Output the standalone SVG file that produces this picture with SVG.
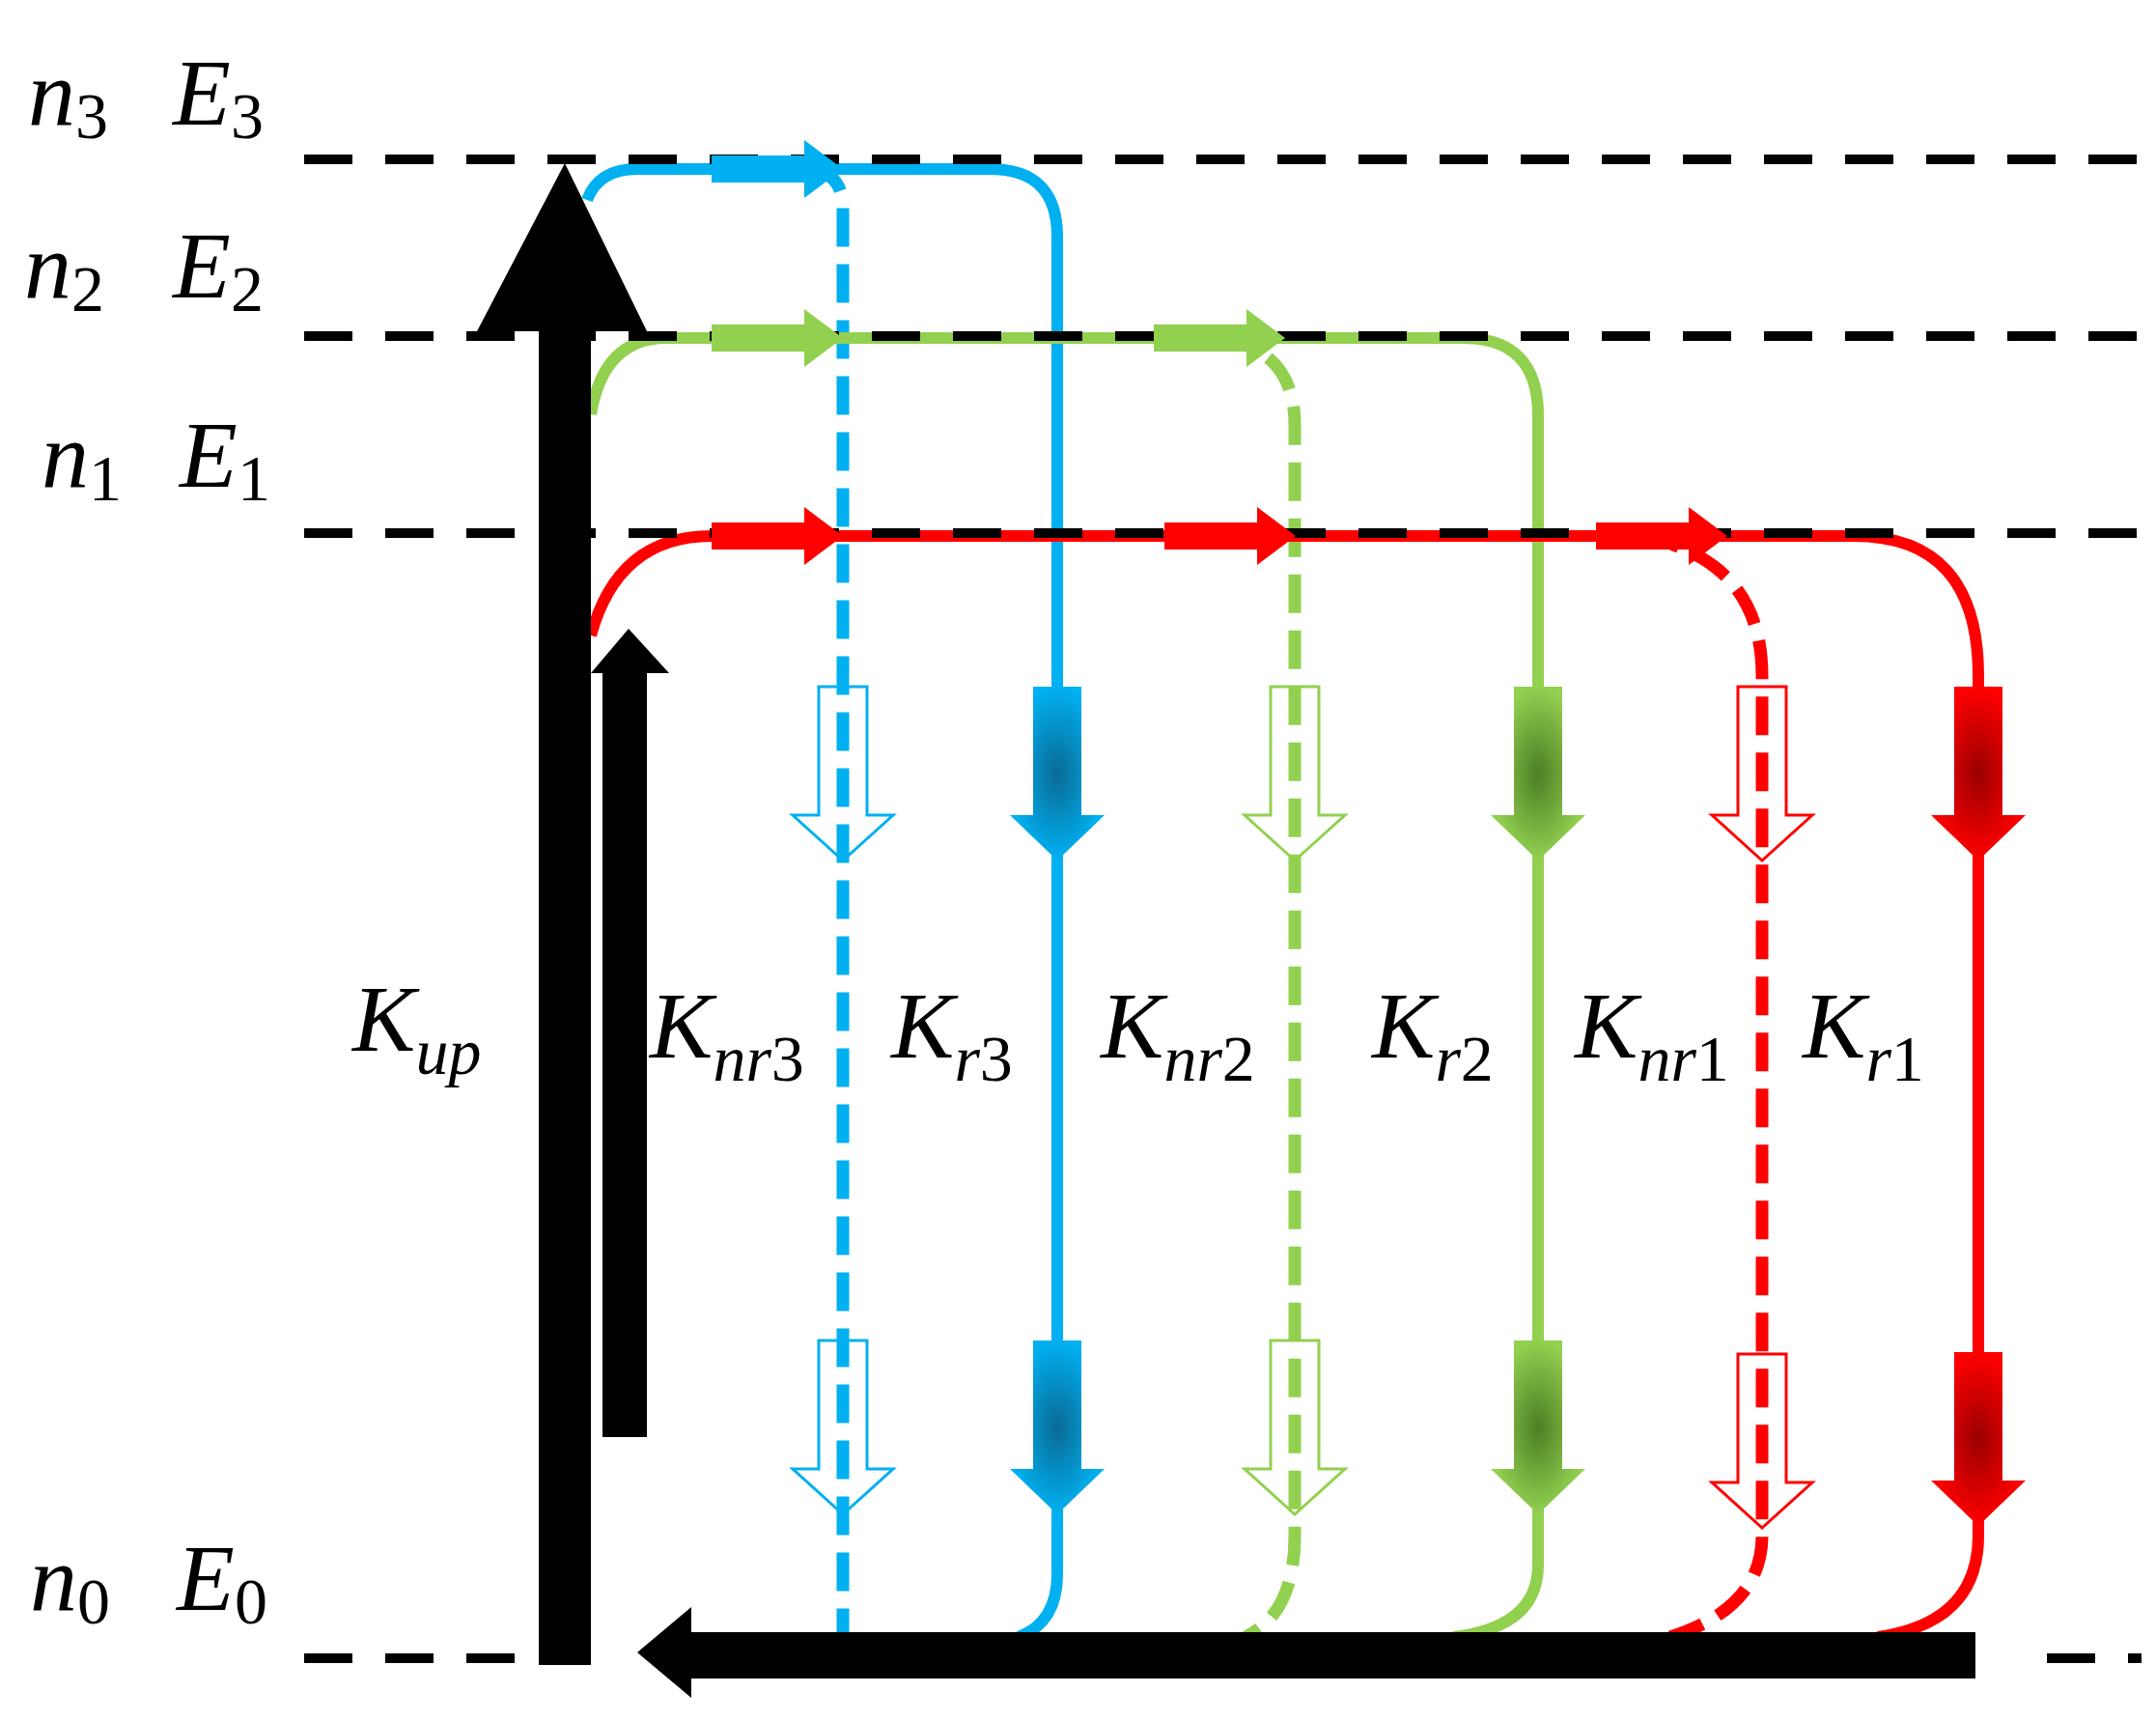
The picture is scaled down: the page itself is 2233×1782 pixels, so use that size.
<svg xmlns="http://www.w3.org/2000/svg" width="2233" height="1782" viewBox="0 0 2233 1782">
<style>
.lvl{stroke:#000;stroke-width:10;stroke-dasharray:50 34;fill:none}
.t{font-family:"Liberation Serif","Times New Roman",serif;font-style:italic;font-size:98px;fill:#000}
.s{font-style:normal;font-size:68px}
.si{font-style:italic}
.bs{stroke:#00b0f0}.gs{stroke:#92d050}.rs{stroke:#ff0000}
.ln{fill:none;stroke-width:12}
.dl{fill:none;stroke-width:13;stroke-dasharray:40 18}
</style>
<defs>
<radialGradient id="gb"><stop offset="0" stop-color="#0a6a94"/><stop offset="1" stop-color="#00b0f0"/></radialGradient>
<radialGradient id="gg"><stop offset="0" stop-color="#4a7f25"/><stop offset="1" stop-color="#92d050"/></radialGradient>
<radialGradient id="gr"><stop offset="0" stop-color="#9a0000"/><stop offset="1" stop-color="#ff0000"/></radialGradient>
<path id="sv" d="M-25,0H25V133H49L0,180L-49,133H-25Z"/>
<path id="hv" d="M-25,0H25V133H52L0,180L-52,133H-25Z"/>
<path id="ha" d="M-136,-14H-40V-30L0,0L-40,30V14H-136Z"/>
</defs>
<g id="connectors">
<path class="ln bs" d="M608,207 Q620,175 660,175 L1025,175 Q1095,175 1095,245 L1095,1630 Q1095,1680 1055,1695"/>
<path class="dl bs" d="M840,175 Q873,180 873,215 L873,1690"/>
<path class="ln gs" d="M612,429 Q625,350 690,350 L1515,350 Q1593,350 1593,430 L1593,1620 Q1593,1685 1505,1695"/>
<path class="dl gs" d="M1260,350 Q1341,360 1341,440 L1341,1590 Q1341,1670 1290,1695"/>
<path class="ln rs" d="M612,658 Q640,555 737,555 L1920,555 Q2049,555 2049,700 L2049,1590 Q2049,1680 1945,1695"/>
<path class="dl rs" d="M1700,555 Q1825,580 1825,700 L1825,1590 Q1825,1665 1730,1695"/>
</g>
<g id="levels">
<path class="lvl" d="M315,165H2218M315,348H2218M315,552H2218M315,1717H560M2120,1717H2218"/>
</g>
<g id="h-arrows">
<use href="#ha" x="873" y="175" fill="#00b0f0"/>
<use href="#ha" x="873" y="350" fill="#92d050"/>
<use href="#ha" x="1331" y="350" fill="#92d050"/>
<use href="#ha" x="873" y="555" fill="#ff0000"/>
<use href="#ha" x="1342" y="555" fill="#ff0000"/>
<use href="#ha" x="1789" y="555" fill="#ff0000"/>
</g>
<g id="v-arrows">
<use href="#hv" x="873" y="711" fill="none" stroke="#00b0f0" stroke-width="3"/>
<use href="#hv" x="873" y="1388" fill="none" stroke="#00b0f0" stroke-width="3"/>
<use href="#sv" x="1095" y="711" fill="url(#gb)"/>
<use href="#sv" x="1095" y="1388" fill="url(#gb)"/>
<use href="#hv" x="1341" y="711" fill="none" stroke="#92d050" stroke-width="3"/>
<use href="#hv" x="1341" y="1388" fill="none" stroke="#92d050" stroke-width="3"/>
<use href="#sv" x="1593" y="711" fill="url(#gg)"/>
<use href="#sv" x="1593" y="1388" fill="url(#gg)"/>
<use href="#hv" x="1825" y="711" fill="none" stroke="#ff0000" stroke-width="3"/>
<use href="#hv" x="1825" y="1402" fill="none" stroke="#ff0000" stroke-width="3"/>
<use href="#sv" x="2049" y="711" fill="url(#gr)"/>
<use href="#sv" x="2049" y="1400" fill="url(#gr)"/>
</g>
<g id="kup">
<path d="M558,1724V343H494L585,169L670,343H612V1724Z" fill="#000"/>
</g>
<g id="knr">
<path d="M624,1488V697H612L651,651L693,697H670V1488Z" fill="#000"/>
</g>
<g id="bottom">
<path d="M2046,1690V1738H716V1758L660,1711L716,1664V1690Z" fill="#000"/>
</g>
<g id="labels">
<text class="t" x="29" y="129">n<tspan class="s" dy="14">3</tspan></text>
<text class="t" x="179" y="129">E<tspan class="s" dy="14">3</tspan></text>
<text class="t" x="25" y="308">n<tspan class="s" dy="14">2</tspan></text>
<text class="t" x="179" y="308">E<tspan class="s" dy="14">2</tspan></text>
<text class="t" x="43" y="504">n<tspan class="s" dy="14">1</tspan></text>
<text class="t" x="186" y="504">E<tspan class="s" dy="14">1</tspan></text>
<text class="t" x="31" y="1667">n<tspan class="s" dy="14">0</tspan></text>
<text class="t" x="183" y="1667">E<tspan class="s" dy="14">0</tspan></text>
<text class="t" x="365" y="1088">K<tspan class="s si" dy="24">up</tspan></text>
<text class="t" x="673" y="1095">K<tspan class="s" dy="24"><tspan class="si">nr</tspan>3</tspan></text>
<text class="t" x="923" y="1095">K<tspan class="s" dy="24"><tspan class="si">r</tspan>3</tspan></text>
<text class="t" x="1140" y="1095">K<tspan class="s" dy="24"><tspan class="si">nr</tspan>2</tspan></text>
<text class="t" x="1421" y="1095">K<tspan class="s" dy="24"><tspan class="si">r</tspan>2</tspan></text>
<text class="t" x="1631" y="1095">K<tspan class="s" dy="24"><tspan class="si">nr</tspan>1</tspan></text>
<text class="t" x="1867" y="1095">K<tspan class="s" dy="24"><tspan class="si">r</tspan>1</tspan></text>
</g>
</svg>
